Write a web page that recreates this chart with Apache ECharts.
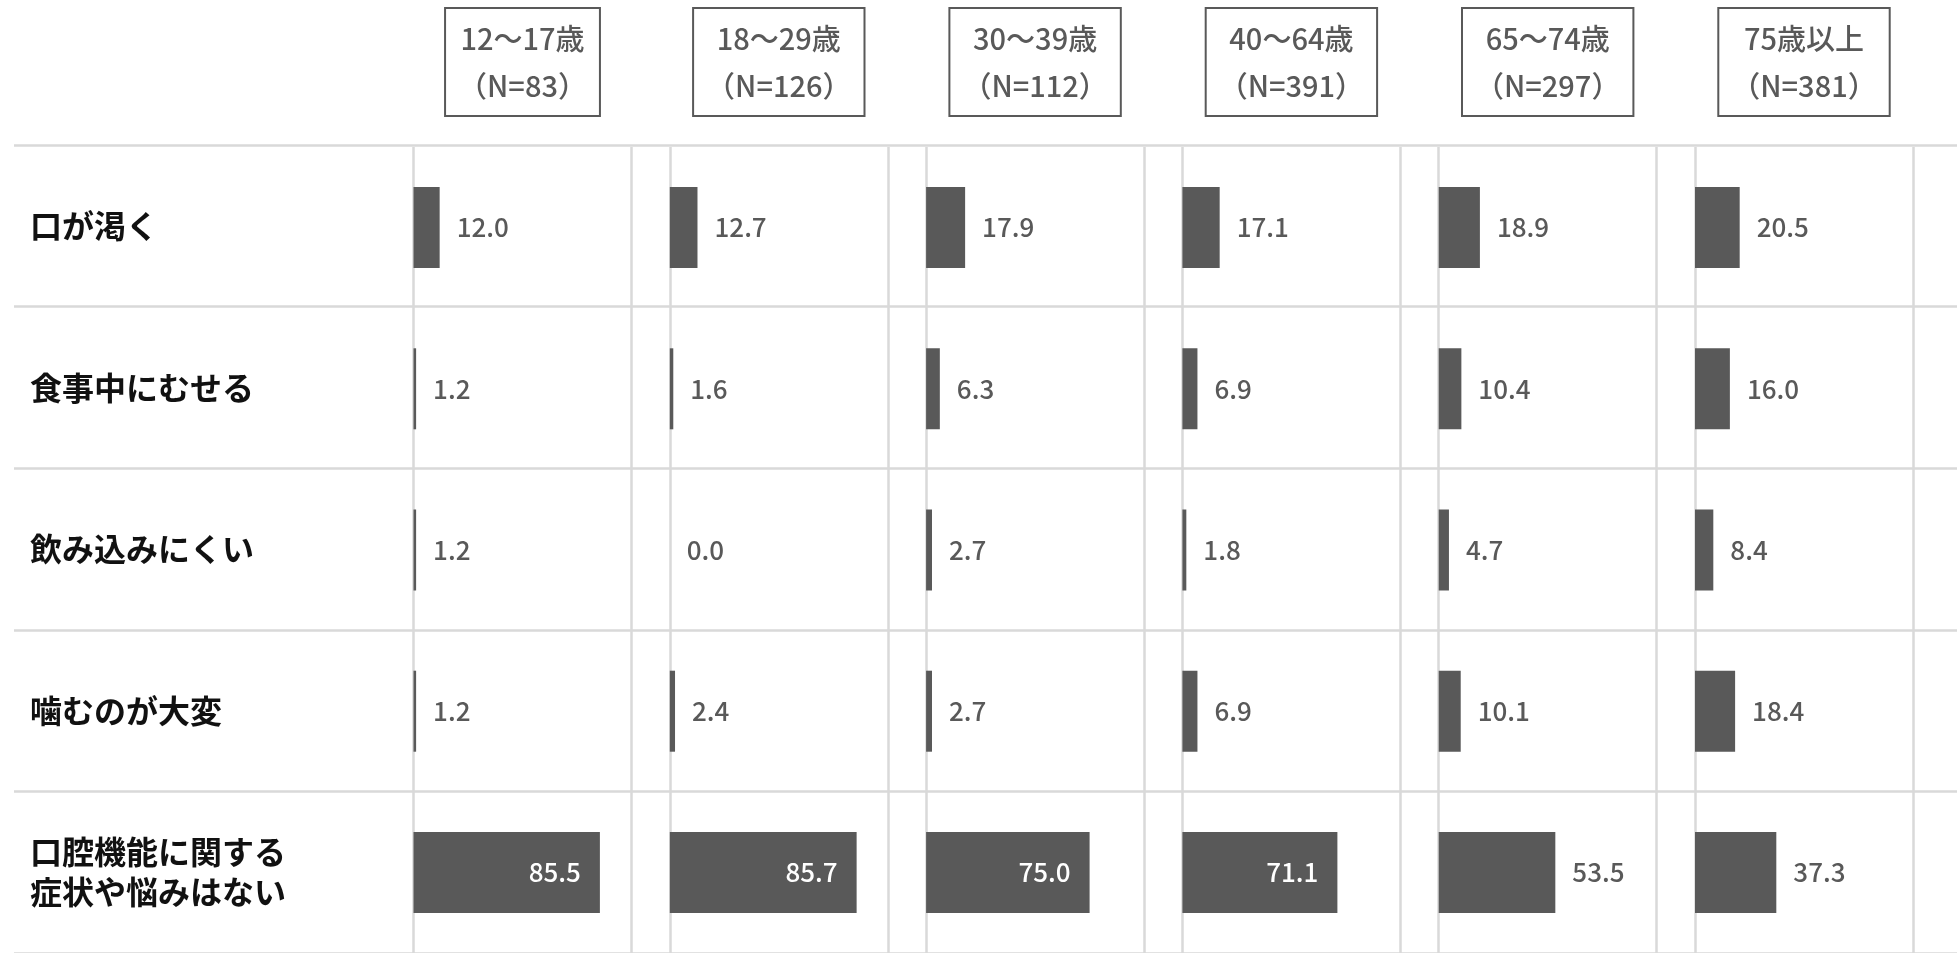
<!DOCTYPE html>
<html>
<head>
<meta charset="utf-8">
<script src="https://cdn.jsdelivr.net/npm/echarts@6/dist/echarts.min.js"></script>
<style>
html,body{margin:0;padding:0;background:#fff;}
#chart{width:1959px;height:953px;}
</style>
</head>
<body>
<div id="chart"></div>
<script>
// ---- data ----
const categories = ['口が渇く', '食事中にむせる', '飲み込みにくい', '噛むのが大変', '口腔機能に関する\n症状や悩みはない'];
const groups = ['12～17歳', '18～29歳', '30～39歳', '40～64歳', '65～74歳', '75歳以上'];
const groupN = [83, 126, 112, 391, 297, 381];
const v12_17 = [12.0, 1.2, 1.2, 1.2, 85.5];
const v18_29 = [12.7, 1.6, 0.0, 2.4, 85.7];
const v30_39 = [17.9, 6.3, 2.7, 2.7, 75.0];
const v40_64 = [17.1, 6.9, 1.8, 6.9, 71.1];
const v65_74 = [18.9, 10.4, 4.7, 10.1, 53.5];
const v75up = [20.5, 16.0, 8.4, 18.4, 37.3];
const seriesValues = [v12_17, v18_29, v30_39, v40_64, v65_74, v75up];

// ---- layout ----
const FONT = '"Noto Sans CJK JP", "Noto Sans", sans-serif';
const GRAY = '#595959';
const LINE = '#d9d9d9';
const panelLeft0 = 413.5, panelStep = 256.3, panelWidth = 218;
const plotTop = 147, plotHeight = 814;

const chart = echarts.init(document.getElementById('chart'), null, {renderer: 'canvas'});

const grids = [], xAxes = [], yAxes = [], series = [];

// full-width grid for row separators and row labels
grids.push({left: 14, right: 2, top: 145, height: 814});
xAxes.push({gridIndex: 0, type: 'value', min: 0, max: 1, show: false});
yAxes.push({
  gridIndex: 0, type: 'category', data: categories, inverse: true,
  axisLine: {show: false}, axisTick: {show: false},
  splitLine: {show: true, lineStyle: {color: LINE, width: 2.5}},
  axisLabel: {
    inside: true, margin: 16, align: 'left',
    color: '#111', fontFamily: FONT, fontSize: 32, fontWeight: 'bold',
    lineHeight: 40, padding: [0, 0, 8, 0]
  }
});

seriesValues.forEach((vals, i) => {
  const gi = i + 1;
  grids.push({left: panelLeft0 + i * panelStep, width: panelWidth, top: plotTop, height: plotHeight});
  xAxes.push({
    gridIndex: gi, type: 'value', min: 0, max: 100, interval: 100, position: 'top',
    axisLine: {show: false}, axisTick: {show: false}, axisLabel: {show: false},
    splitLine: {show: true, lineStyle: {color: LINE, width: 2.5}},
    name: groups[i] + '\n（N=' + groupN[i] + '）',
    nameLocation: 'middle', nameGap: 31,
    nameTextStyle: {
      color: GRAY, fontFamily: FONT, fontSize: 29, fontWeight: 500, lineHeight: 47,
      borderColor: GRAY, borderWidth: 2, padding: [7, 13, 7, 13], align: 'center'
    }
  });
  yAxes.push({gridIndex: gi, type: 'category', data: categories, inverse: true, show: false});
  series.push({
    type: 'bar', xAxisIndex: gi, yAxisIndex: gi,
    barWidth: 81,
    itemStyle: {color: GRAY},
    data: vals.map(v => ({
      value: v,
      label: v >= 60
        ? {position: 'insideRight', distance: 19, color: '#fff'}
        : {position: 'right', distance: 17, color: GRAY}
    })),
    label: {
      show: true, fontFamily: FONT, fontSize: 26, fontWeight: 500,
      formatter: p => Number(p.value).toFixed(1)
    },
    silent: true
  });
});

chart.setOption({
  animation: false,
  backgroundColor: '#fff',
  grid: grids,
  xAxis: xAxes,
  yAxis: yAxes,
  series: series
});
</script>
</body>
</html>
